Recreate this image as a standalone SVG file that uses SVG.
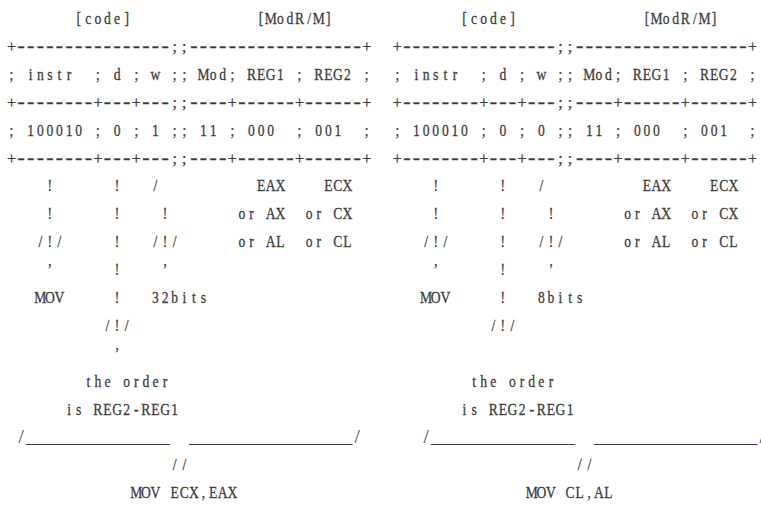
<svg xmlns="http://www.w3.org/2000/svg" width="761" height="520" viewBox="0 0 761 520">
<style>
text{font-family:"Liberation Serif","Times New Roman",serif;font-size:17px;fill:#3c3c3c;stroke:#3c3c3c;stroke-width:0.3;white-space:pre;text-anchor:middle}
.g{font-size:16px}
.d{font-size:22px}
.u{font-size:19.2px;stroke:none}
</style>
<rect width="761" height="520" fill="#fff"/>
<g id="left-panel">
<g id="left-grid" transform="translate(11.5,0)">
<text class="g" xml:space="preserve" x="0 9.6 19.2 28.8 38.4 48 57.6 67.2 76.8 86.4 96 105.6 115.2 124.8 134.4 144 153.6 163.2 172.8 182.4 192 201.6 211.2 220.8 230.4 240 249.6 259.2 268.8 278.4 288 297.6 307.2 316.8 326.4 336 345.6 355.2 364.8 374.4" y="51.9">+<tspan class="d">----------------</tspan>;;<tspan class="d">------------------</tspan>+</text>
<text class="g" xml:space="preserve" x="0 9.6 19.2 28.8 38.4 48 57.6 67.2 76.8 86.4 96 105.6 115.2 124.8 134.4 144 153.6 163.2 172.8 182.4 192 201.6 211.2 220.8 230.4 240 249.6 259.2 268.8 278.4 288 297.6 307.2 316.8 326.4 336 345.6 355.2 364.8 374.4" y="107.7">+<tspan class="d">--------</tspan>+<tspan class="d">---</tspan>+<tspan class="d">---</tspan>;;<tspan class="d">----</tspan>+<tspan class="d">------</tspan>+<tspan class="d">------</tspan>+</text>
<text class="g" xml:space="preserve" x="0 9.6 19.2 28.8 38.4 48 57.6 67.2 76.8 86.4 96 105.6 115.2 124.8 134.4 144 153.6 163.2 172.8 182.4 192 201.6 211.2 220.8 230.4 240 249.6 259.2 268.8 278.4 288 297.6 307.2 316.8 326.4 336 345.6 355.2 364.8 374.4" y="163.5">+<tspan class="d">--------</tspan>+<tspan class="d">---</tspan>+<tspan class="d">---</tspan>;;<tspan class="d">----</tspan>+<tspan class="d">------</tspan>+<tspan class="d">------</tspan>+</text>
<text class="u" xml:space="preserve" x="0 9.6 19.2 28.8 38.4 48 57.6 67.2 76.8 86.4 96 105.6 115.2 124.8 134.4 144 153.6 163.2 172.8 182.4 192 201.6 211.2 220.8 230.4 240 249.6 259.2 268.8 278.4 288 297.6 307.2 316.8 326.4 336 345.6 355.2 364.8 374.4" y="442.5"> /_______________  _________________/</text>
</g>
<g id="left-text" transform="translate(11.5,0) scale(0.8,1)">
<text xml:space="preserve" x="0 12 24 36 48 60 72 84 96 108 120 132 144 156 168 180 192 204 216 228 240 252 264 276 288 300 312 324 336 348 360 372 384 396 408 420 432 444 456 468" y="24">       [code]             [ModR/M]</text>
<text xml:space="preserve" x="0 12 24 36 48 60 72 84 96 108 120 132 144 156 168 180 192 204 216 228 240 252 264 276 288 300 312 324 336 348 360 372 384 396 408 420 432 444 456 468" y="79.8">; instr  ; d ; w ;; Mod; REG1 ; REG2 ;</text>
<text xml:space="preserve" x="0 12 24 36 48 60 72 84 96 108 120 132 144 156 168 180 192 204 216 228 240 252 264 276 288 300 312 324 336 348 360 372 384 396 408 420 432 444 456 468" y="135.6">; 100010 ; 0 ; 1 ;; 11 ; 000  ; 001  ;</text>
<text xml:space="preserve" x="0 12 24 36 48 60 72 84 96 108 120 132 144 156 168 180 192 204 216 228 240 252 264 276 288 300 312 324 336 348 360 372 384 396 408 420 432 444 456 468" y="191.4">    !      !   /          EAX    ECX</text>
<text xml:space="preserve" x="0 12 24 36 48 60 72 84 96 108 120 132 144 156 168 180 192 204 216 228 240 252 264 276 288 300 312 324 336 348 360 372 384 396 408 420 432 444 456 468" y="219.3">    !      !    !       or AX  or CX</text>
<text xml:space="preserve" x="0 12 24 36 48 60 72 84 96 108 120 132 144 156 168 180 192 204 216 228 240 252 264 276 288 300 312 324 336 348 360 372 384 396 408 420 432 444 456 468" y="247.2">   /!/     !   /!/      or AL  or CL</text>
<text xml:space="preserve" x="0 12 24 36 48 60 72 84 96 108 120 132 144 156 168 180 192 204 216 228 240 252 264 276 288 300 312 324 336 348 360 372 384 396 408 420 432 444 456 468" y="275.1">    ’      !    ’</text>
<text xml:space="preserve" x="0 12 24 36 48 60 72 84 96 108 120 132 144 156 168 180 192 204 216 228 240 252 264 276 288 300 312 324 336 348 360 372 384 396 408 420 432 444 456 468" y="303">   MOV     !   32bits</text>
<text xml:space="preserve" x="0 12 24 36 48 60 72 84 96 108 120 132 144 156 168 180 192 204 216 228 240 252 264 276 288 300 312 324 336 348 360 372 384 396 408 420 432 444 456 468" y="330.9">          /!/</text>
<text xml:space="preserve" x="0 12 24 36 48 60 72 84 96 108 120 132 144 156 168 180 192 204 216 228 240 252 264 276 288 300 312 324 336 348 360 372 384 396 408 420 432 444 456 468" y="358.8">           ’</text>
<text xml:space="preserve" x="0 12 24 36 48 60 72 84 96 108 120 132 144 156 168 180 192 204 216 228 240 252 264 276 288 300 312 324 336 348 360 372 384 396 408 420 432 444 456 468" y="386.7">        the order</text>
<text xml:space="preserve" x="0 12 24 36 48 60 72 84 96 108 120 132 144 156 168 180 192 204 216 228 240 252 264 276 288 300 312 324 336 348 360 372 384 396 408 420 432 444 456 468" y="414.6">      is REG2-REG1</text>
<text xml:space="preserve" x="0 12 24 36 48 60 72 84 96 108 120 132 144 156 168 180 192 204 216 228 240 252 264 276 288 300 312 324 336 348 360 372 384 396 408 420 432 444 456 468" y="470.4">                 //</text>
<text xml:space="preserve" x="0 12 24 36 48 60 72 84 96 108 120 132 144 156 168 180 192 204 216 228 240 252 264 276 288 300 312 324 336 348 360 372 384 396 408 420 432 444 456 468" y="498.3">             MOV ECX,EAX</text>
</g>
</g>
<g id="right-panel">
<g id="right-grid" transform="translate(397.3,0)">
<text class="g" xml:space="preserve" x="0 9.6 19.2 28.8 38.4 48 57.6 67.2 76.8 86.4 96 105.6 115.2 124.8 134.4 144 153.6 163.2 172.8 182.4 192 201.6 211.2 220.8 230.4 240 249.6 259.2 268.8 278.4 288 297.6 307.2 316.8 326.4 336 345.6 355.2 364.8 374.4" y="51.9">+<tspan class="d">----------------</tspan>;;<tspan class="d">------------------</tspan>+</text>
<text class="g" xml:space="preserve" x="0 9.6 19.2 28.8 38.4 48 57.6 67.2 76.8 86.4 96 105.6 115.2 124.8 134.4 144 153.6 163.2 172.8 182.4 192 201.6 211.2 220.8 230.4 240 249.6 259.2 268.8 278.4 288 297.6 307.2 316.8 326.4 336 345.6 355.2 364.8 374.4" y="107.7">+<tspan class="d">--------</tspan>+<tspan class="d">---</tspan>+<tspan class="d">---</tspan>;;<tspan class="d">----</tspan>+<tspan class="d">------</tspan>+<tspan class="d">------</tspan>+</text>
<text class="g" xml:space="preserve" x="0 9.6 19.2 28.8 38.4 48 57.6 67.2 76.8 86.4 96 105.6 115.2 124.8 134.4 144 153.6 163.2 172.8 182.4 192 201.6 211.2 220.8 230.4 240 249.6 259.2 268.8 278.4 288 297.6 307.2 316.8 326.4 336 345.6 355.2 364.8 374.4" y="163.5">+<tspan class="d">--------</tspan>+<tspan class="d">---</tspan>+<tspan class="d">---</tspan>;;<tspan class="d">----</tspan>+<tspan class="d">------</tspan>+<tspan class="d">------</tspan>+</text>
<text class="u" xml:space="preserve" x="0 9.6 19.2 28.8 38.4 48 57.6 67.2 76.8 86.4 96 105.6 115.2 124.8 134.4 144 153.6 163.2 172.8 182.4 192 201.6 211.2 220.8 230.4 240 249.6 259.2 268.8 278.4 288 297.6 307.2 316.8 326.4 336 345.6 355.2 364.8 374.4" y="442.5">   /_______________  _________________/</text>
</g>
<g id="right-text" transform="translate(397.3,0) scale(0.8,1)">
<text xml:space="preserve" x="0 12 24 36 48 60 72 84 96 108 120 132 144 156 168 180 192 204 216 228 240 252 264 276 288 300 312 324 336 348 360 372 384 396 408 420 432 444 456 468" y="24">       [code]             [ModR/M]</text>
<text xml:space="preserve" x="0 12 24 36 48 60 72 84 96 108 120 132 144 156 168 180 192 204 216 228 240 252 264 276 288 300 312 324 336 348 360 372 384 396 408 420 432 444 456 468" y="79.8">; instr  ; d ; w ;; Mod; REG1 ; REG2 ;</text>
<text xml:space="preserve" x="0 12 24 36 48 60 72 84 96 108 120 132 144 156 168 180 192 204 216 228 240 252 264 276 288 300 312 324 336 348 360 372 384 396 408 420 432 444 456 468" y="135.6">; 100010 ; 0 ; 0 ;; 11 ; 000  ; 001  ;</text>
<text xml:space="preserve" x="0 12 24 36 48 60 72 84 96 108 120 132 144 156 168 180 192 204 216 228 240 252 264 276 288 300 312 324 336 348 360 372 384 396 408 420 432 444 456 468" y="191.4">    !      !   /          EAX    ECX</text>
<text xml:space="preserve" x="0 12 24 36 48 60 72 84 96 108 120 132 144 156 168 180 192 204 216 228 240 252 264 276 288 300 312 324 336 348 360 372 384 396 408 420 432 444 456 468" y="219.3">    !      !    !       or AX  or CX</text>
<text xml:space="preserve" x="0 12 24 36 48 60 72 84 96 108 120 132 144 156 168 180 192 204 216 228 240 252 264 276 288 300 312 324 336 348 360 372 384 396 408 420 432 444 456 468" y="247.2">   /!/     !   /!/      or AL  or CL</text>
<text xml:space="preserve" x="0 12 24 36 48 60 72 84 96 108 120 132 144 156 168 180 192 204 216 228 240 252 264 276 288 300 312 324 336 348 360 372 384 396 408 420 432 444 456 468" y="275.1">    ’      !    ’</text>
<text xml:space="preserve" x="0 12 24 36 48 60 72 84 96 108 120 132 144 156 168 180 192 204 216 228 240 252 264 276 288 300 312 324 336 348 360 372 384 396 408 420 432 444 456 468" y="303">   MOV     !   8bits</text>
<text xml:space="preserve" x="0 12 24 36 48 60 72 84 96 108 120 132 144 156 168 180 192 204 216 228 240 252 264 276 288 300 312 324 336 348 360 372 384 396 408 420 432 444 456 468" y="330.9">          /!/</text>
<text xml:space="preserve" x="0 12 24 36 48 60 72 84 96 108 120 132 144 156 168 180 192 204 216 228 240 252 264 276 288 300 312 324 336 348 360 372 384 396 408 420 432 444 456 468" y="386.7">        the order</text>
<text xml:space="preserve" x="0 12 24 36 48 60 72 84 96 108 120 132 144 156 168 180 192 204 216 228 240 252 264 276 288 300 312 324 336 348 360 372 384 396 408 420 432 444 456 468" y="414.6">       is REG2-REG1</text>
<text xml:space="preserve" x="0 12 24 36 48 60 72 84 96 108 120 132 144 156 168 180 192 204 216 228 240 252 264 276 288 300 312 324 336 348 360 372 384 396 408 420 432 444 456 468" y="470.4">                   //</text>
<text xml:space="preserve" x="0 12 24 36 48 60 72 84 96 108 120 132 144 156 168 180 192 204 216 228 240 252 264 276 288 300 312 324 336 348 360 372 384 396 408 420 432 444 456 468" y="498.3">              MOV CL,AL</text>
</g>
</g>
</svg>
